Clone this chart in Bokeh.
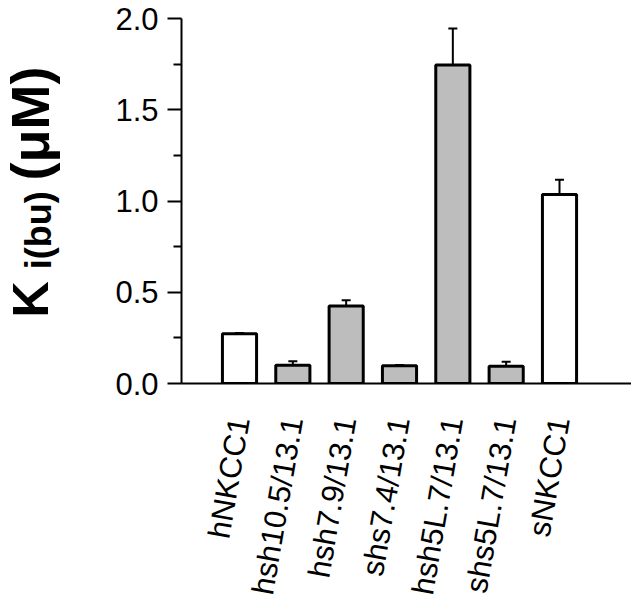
import math
from bokeh.plotting import figure
from bokeh.layouts import row
from bokeh.core.properties import value
from bokeh.models import (ColumnDataSource, Whisker, TeeHead, FixedTicker,
                          PrintfTickFormatter, Range1d)
from bokeh.embed import file_html
from bokeh.resources import INLINE

# ---- data ----
categories = ["hNKCC1", "hsh10.5/13.1", "hsh7.9/13.1", "shs7.4/13.1",
              "hsh5L.7/13.1", "shs5L.7/13.1", "sNKCC1"]
values = [0.272, 0.100, 0.424, 0.097, 1.745, 0.095, 1.036]
errors = [0.005, 0.022, 0.032, 0.005, 0.200, 0.024, 0.080]
fills = ["#ffffff", "#bdbdbd", "#bdbdbd", "#bdbdbd", "#bdbdbd", "#bdbdbd", "#ffffff"]
y_ticks = [0.0, 0.5, 1.0, 1.5, 2.0]
y_minor = [0.25, 0.75, 1.25, 1.75]
y_title = ["K", "i(bu)", "(\u03bcM)"]

positions = list(range(1, len(categories) + 1))
src = ColumnDataSource(dict(
    x=positions, top=values, fill=fills,
    upper=[v + e for v, e in zip(values, errors)],
    lower=[v - e for v, e in zip(values, errors)],
))

FONT = "Liberation Sans"
TOP = 18
FRAME_H = 365
LEFT_W = 60

# ---- main chart ----
p = figure(frame_width=450, frame_height=FRAME_H, output_backend="svg",
           toolbar_location=None,
           x_range=Range1d(-0.0875, 8.35), y_range=Range1d(0, 2.0),
           min_border_left=181 - LEFT_W, min_border_right=0, min_border_top=TOP,
           min_border_bottom=0)
p.outline_line_color = None
p.xgrid.visible = False
p.ygrid.visible = False
p.background_fill_color = "white"

p.vbar(x="x", top="top", bottom=0, width=0.64, source=src,
       fill_color="fill", line_color="black", line_width=3)

w = Whisker(base="x", upper="upper", lower="lower", source=src,
            line_color="black", line_width=2,
            upper_head=TeeHead(size=9, line_width=2, line_color="black"),
            lower_head=TeeHead(size=9, line_width=2, line_color="black"))
p.add_layout(w)

# y axis
ya = p.yaxis[0]
ya.ticker = FixedTicker(ticks=y_ticks, minor_ticks=y_minor)
ya.formatter = PrintfTickFormatter(format="%.1f")
ya.axis_line_width = 2
ya.major_tick_line_width = 2
ya.minor_tick_line_width = 2
ya.major_tick_out = 14
ya.major_tick_in = 0
ya.minor_tick_out = 8
ya.minor_tick_in = 0
ya.major_label_text_font = FONT
ya.major_label_text_font_size = "31px"
ya.major_label_text_color = "black"
ya.major_label_standoff = 9

# x axis
xa = p.xaxis[0]
xa.ticker = FixedTicker(ticks=positions, minor_ticks=[])
xa.major_label_overrides = {pos: c for pos, c in zip(positions, categories)}
xa.axis_line_width = 2
xa.major_tick_out = 0
xa.major_tick_in = 0
xa.minor_tick_out = 0
xa.major_label_orientation = 1.40
xa.major_label_text_font = FONT
xa.major_label_text_font_size = "31px"
xa.major_label_text_color = "black"
xa.major_label_standoff = 34

# ---- narrow panel holding the y-axis title K_i(bu) (µM) ----
t = figure(width=LEFT_W, frame_height=FRAME_H, output_backend="svg",
           toolbar_location=None, x_range=Range1d(0, LEFT_W),
           y_range=Range1d(0, 2.0), x_axis_location=None, y_axis_location=None,
           min_border_left=0, min_border_right=0,
           min_border_top=TOP, min_border_bottom=0)
t.grid.visible = False
t.outline_line_color = None
t.text(x=[30], y=[0.362], text=[y_title[0]], angle=math.pi / 2,
       text_font=value(FONT), text_font_size="50px", text_font_style="bold",
       text_align="left", text_baseline="middle", text_color="black")
t.text(x=[38], y=[0.840], text=[y_title[1]], angle=math.pi / 2,
       text_font=value(FONT), text_font_size="36px", text_font_style="bold",
       text_align="center", text_baseline="middle", text_color="black")
t.text(x=[29], y=[1.425], text=[y_title[2]], angle=math.pi / 2,
       text_font=value(FONT), text_font_size="54px", text_font_style="bold",
       text_align="center", text_baseline="middle", text_color="black")

layout = row(t, p)
open("out.html", "w").write(file_html(layout, INLINE))
